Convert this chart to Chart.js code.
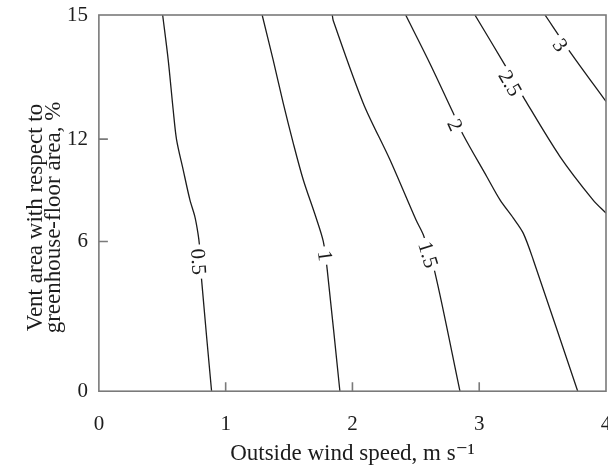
<!DOCTYPE html>
<html>
<head>
<meta charset="utf-8">
<script src="https://cdn.jsdelivr.net/npm/chart.js@4"></script>
<style>
html, body { margin: 0; padding: 0; background: #fff; }
#wrap { width: 608px; height: 468px; }
</style>
</head>
<body>
<div id="wrap"><canvas id="contour-chart"></canvas></div>
<script>
// x = outside wind speed (m/s), y = vent area (% of floor area)
const windTicks = [0, 1, 2, 3, 4];
const ventTicks = [0, 6, 12, 15];
// the printed vent axis is not uniform: where each tick sits, 0..1 from bottom
const ventTickPos = [0, 0.398, 0.67, 1];

const levels = ['0.5', '1', '1.5', '2', '2.5', '3'];

// contour lines, read top to bottom
const wind05 = [0.503, 0.547, 0.586, 0.613, 0.665, 0.718, 0.757, 0.781, 0.793, 0.810, 0.889];
const vent05 = [15, 13.91, 12.71, 11.96, 10.20, 8.44, 7.46, 6.51, 5.87, 4.47, 0];

const wind10 = [1.288, 1.375, 1.454, 1.533, 1.612, 1.710, 1.770, 1.801, 1.901];
const vent10 = [15, 13.91, 12.87, 11.77, 9.62, 7.46, 6.0, 4.87, 0];

const wind15 = [1.841, 1.849, 2.085, 2.296, 2.501, 2.559, 2.651, 2.848];
const vent15 = [15, 14.86, 12.87, 10.79, 7.27, 6.39, 4.75, 0];

const wind20 = [2.420, 2.611, 2.795, 2.874, 3.059, 3.164, 3.269, 3.347, 3.426, 3.777];
const vent20 = [15, 13.83, 12.63, 12.10, 9.81, 8.44, 7.37, 6.49, 5.27, 0];

const wind25 = [2.966, 3.203, 3.361, 3.637, 3.897, 4.0];
const vent25 = [15, 13.79, 12.95, 10.98, 8.44, 7.66];

const wind30 = [3.519, 3.716, 4.0];
const vent30 = [15, 14.11, 12.91];

// where each contour label sits
const labelWind = [0.785, 1.783, 2.596, 2.808, 3.243, 3.637];
const labelVent = [5.19, 5.43, 5.47, 12.34, 13.35, 14.27];

const lines = [
    [wind05, vent05],
    [wind10, vent10],
    [wind15, vent15],
    [wind20, vent20],
    [wind25, vent25],
    [wind30, vent30]
];

function warpVent(v) {
    for (let i = 1; i < ventTicks.length; i++) {
        if (v <= ventTicks[i]) {
            const t = (v - ventTicks[i - 1]) / (ventTicks[i] - ventTicks[i - 1]);
            return ventTickPos[i - 1] + t * (ventTickPos[i] - ventTickPos[i - 1]);
        }
    }
    return 1;
}

const SERIF = '"Liberation Serif", "DejaVu Serif", serif';
const AXIS_GREY = '#7a7a7a';
const INK = '#1c1c1c';

const datasets = lines.map(([wind, vent], i) => ({
    label: levels[i],
    data: wind.map((w, k) => ({ x: w, y: warpVent(vent[k]) })),
    borderColor: INK,
    borderWidth: 1.3,
    pointRadius: 0,
    tension: 0.3,
    fill: false
}));

// inward ticks + frame
const framePlugin = {
    id: 'frame',
    afterDatasetsDraw(chart) {
        const { ctx, chartArea: a, scales } = chart;
        ctx.save();
        ctx.strokeStyle = AXIS_GREY;
        ctx.lineWidth = 1.6;
        ctx.strokeRect(a.left, a.top, a.right - a.left, a.bottom - a.top);
        ctx.beginPath();
        windTicks.slice(1, -1).forEach(w => {
            const x = scales.x.getPixelForValue(w);
            ctx.moveTo(x, a.bottom);
            ctx.lineTo(x, a.bottom - 9);
        });
        ventTickPos.slice(1, -1).forEach(p => {
            const y = scales.y.getPixelForValue(p);
            ctx.moveTo(a.left, y);
            ctx.lineTo(a.left + 9, y);
        });
        ctx.stroke();
        ctx.restore();
    }
};

// labels written along the contours
const contourLabelPlugin = {
    id: 'contourLabels',
    afterDatasetsDraw(chart) {
        const { ctx, scales } = chart;
        ctx.save();
        ctx.font = '21px ' + SERIF;
        ctx.textAlign = 'center';
        ctx.textBaseline = 'middle';
        levels.forEach((txt, i) => {
            const px = scales.x.getPixelForValue(labelWind[i]);
            const py = scales.y.getPixelForValue(warpVent(labelVent[i]));
            const pts = chart.getDatasetMeta(i).data;
            let ang = Math.PI / 2;
            for (let k = 0; k < pts.length - 1; k++) {
                if (py >= pts[k].y && py <= pts[k + 1].y) {
                    ang = Math.atan2(pts[k + 1].y - pts[k].y, pts[k + 1].x - pts[k].x);
                    break;
                }
            }
            const w = ctx.measureText(txt).width;
            ctx.save();
            ctx.translate(px, py);
            ctx.rotate(ang);
            ctx.fillStyle = '#fff';
            ctx.fillRect(-w / 2 - 4, -9, w + 8, 18);
            ctx.fillStyle = INK;
            ctx.fillText(txt, 0, 1);
            ctx.restore();
        });
        ctx.restore();
    }
};

new Chart(document.getElementById('contour-chart'), {
    type: 'line',
    data: { datasets },
    options: {
        responsive: true,
        maintainAspectRatio: false,
        animation: false,
        layout: { padding: { top: 15, right: 2, left: 27, bottom: 0 } },
        plugins: {
            legend: { display: false },
            tooltip: { enabled: false }
        },
        scales: {
            x: {
                type: 'linear',
                min: 0,
                max: 4,
                afterBuildTicks: s => { s.ticks = windTicks.map(v => ({ value: v })); },
                afterFit: s => { s.paddingLeft = 0; s.paddingRight = 0; },
                grid: { display: false, drawTicks: false },
                border: { display: false },
                ticks: {
                    padding: 21,
                    color: INK,
                    maxRotation: 0,
                    font: { family: SERIF, size: 21 }
                },
                title: {
                    display: true,
                    text: 'Outside wind speed, m s\u207B\u00B9',
                    color: INK,
                    font: { family: SERIF, size: 23 },
                    padding: { top: -18, bottom: 0 }
                }
            },
            y: {
                type: 'linear',
                min: 0,
                max: 1,
                afterBuildTicks: s => { s.ticks = ventTickPos.map(v => ({ value: v })); },
                afterFit: s => { s.paddingTop = 0; s.paddingBottom = 0; },
                grid: { display: false, drawTicks: false },
                border: { display: false },
                ticks: {
                    padding: 11,
                    color: INK,
                    font: { family: SERIF, size: 21 },
                    callback: (value, index) => ventTicks[index]
                },
                title: {
                    display: true,
                    text: ['Vent area with respect to\u2002\u2002 ', 'greenhouse-floor area, %\u2002\u2002 '],
                    color: INK,
                    font: { family: SERIF, size: 23, lineHeight: 0.78 },
                    padding: { top: 0, bottom: -7 }
                }
            }
        }
    },
    plugins: [framePlugin, contourLabelPlugin]
});
</script>
</body>
</html>
